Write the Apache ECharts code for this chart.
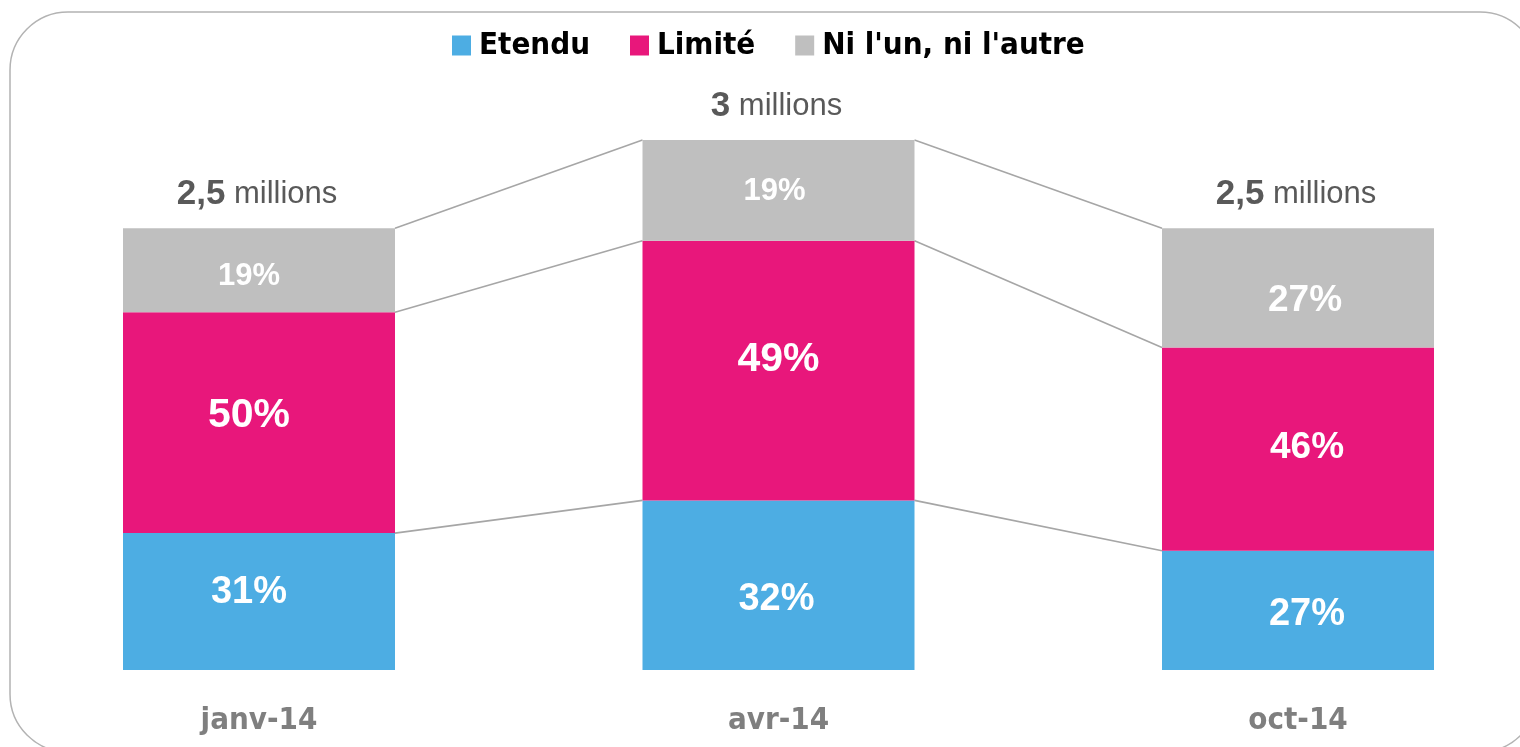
<!DOCTYPE html>
<html>
<head>
<meta charset="utf-8">
<script src="https://cdn.jsdelivr.net/npm/echarts@6/dist/echarts.min.js"></script>
<style>
  html, body { margin: 0; padding: 0; background: #fff; }
  #chart { width: 1520px; height: 747px; }
</style>
</head>
<body>
<div id="chart"></div>
<script>
// data
const categories = ['janv-14', 'avr-14', 'oct-14'];
const totals = [2.5, 3, 2.5];              // millions
const totalLabels = ['2,5', '3', '2,5'];
const etendu = [31, 32, 27];               // %
const limite = [50, 49, 46];
const niLun = [19, 19, 27];

const BAR_W = 272;
const NARROW = "'Liberation Sans Narrow', 'DejaVu Sans Condensed', 'Open Sans', sans-serif";
const ARIAL = "'Liberation Sans', Arial, sans-serif";

// label sizes / nudges per bar (the original labels are not all centred)
const labelLook = {
  'Etendu': { size: [38, 38, 38], dx: [-10, -2, 9], dy: [-9, 14, 4] },
  'Limité': { size: [41, 41, 37], dx: [-10, 0, 9], dy: [-7, -11, -1] },
  "Ni l'un, ni l'autre": { size: [31, 31, 37], dx: [-10, -4, 7], dy: [6, 1, 13] }
};

const pctSeries = [
  { name: 'Etendu', pct: etendu, color: '#4DADE3' },
  { name: 'Limité', pct: limite, color: '#E8177B' },
  { name: "Ni l'un, ni l'autre", pct: niLun, color: '#BFBFBF' }
];

// cumulative stack tops per bar (in millions)
const stackTops = categories.map((c, i) => {
  let acc = 0;
  return pctSeries.map(s => (acc += s.pct[i] / 100 * totals[i]));
});

const chart = echarts.init(document.getElementById('chart'));

const barSeries = pctSeries.map(s => {
  const look = labelLook[s.name];
  return {
    name: s.name,
    type: 'bar',
    stack: 'total',
    barWidth: BAR_W,
    clip: false,
    itemStyle: { color: s.color },
    data: s.pct.map((p, i) => ({
      value: p / 100 * totals[i],
      label: {
        fontSize: look.size[i],
        offset: [look.dx[i], look.dy[i]]
      }
    })),
    label: {
      show: true,
      position: 'inside',
      color: '#fff',
      fontWeight: 'bold',
      fontFamily: ARIAL,
      formatter: p => s.pct[p.dataIndex] + '%'
    }
  };
});

const option = {
  animation: false,
  backgroundColor: '#fff',
  graphic: [{
    type: 'rect',
    z: -10,
    shape: { x: 10, y: 12, width: 1528, height: 740, r: 58 },
    style: { fill: 'none', stroke: '#b3b3b3', lineWidth: 1.5 }
  }],
  legend: {
    top: 25,
    left: 447,
    icon: 'rect',
    itemWidth: 19,
    itemHeight: 20,
    itemGap: 40,
    data: pctSeries.map(s => s.name),
    textStyle: {
      color: '#000', fontWeight: 'bold', fontSize: 31, fontFamily: NARROW,
      padding: [0, 0, 0, 3]
    }
  },
  grid: { left: 259, right: 222, top: 140, bottom: 77 },
  xAxis: {
    type: 'category',
    data: categories,
    boundaryGap: false,
    axisLine: { show: false },
    axisTick: { show: false },
    axisLabel: {
      margin: 35,
      color: '#7f7f7f',
      fontWeight: 'bold',
      fontSize: 31,
      fontFamily: NARROW
    }
  },
  yAxis: {
    type: 'value',
    min: 0,
    max: 3,
    show: false,
    splitLine: { show: false }
  },
  series: [
    ...barSeries,
    {
      name: 'liens',
      type: 'custom',
      z: 1,
      silent: true,
      data: categories.slice(0, -1).map((c, i) => [i]),
      renderItem: (params, api) => {
        const i = api.value(0);
        const half = BAR_W / 2;
        const children = stackTops[i].map((top, k) => {
          const a = api.coord([i, top]);
          const b = api.coord([i + 1, stackTops[i + 1][k]]);
          return {
            type: 'line',
            shape: { x1: a[0] + half, y1: a[1], x2: b[0] - half, y2: b[1] },
            style: { stroke: '#a6a6a6', lineWidth: 1.6 }
          };
        });
        return { type: 'group', children };
      }
    },
    {
      name: 'totaux',
      type: 'custom',
      silent: true,
      data: categories.map((c, i) => [i, totals[i]]),
      renderItem: (params, api) => {
        const i = params.dataIndex;
        const p = api.coord([api.value(0), api.value(1)]);
        return {
          type: 'text',
          style: {
            x: p[0] - 2,
            y: p[1] - 34,
            text: '{b|' + totalLabels[i] + '}{n| millions}',
            align: 'center',
            verticalAlign: 'middle',
            rich: {
              b: { fontSize: 35, fontWeight: 'bold', fill: '#595959', fontFamily: ARIAL },
              n: { fontSize: 31, fill: '#595959', fontFamily: ARIAL }
            }
          }
        };
      }
    }
  ]
};

chart.setOption(option);
</script>
</body>
</html>
